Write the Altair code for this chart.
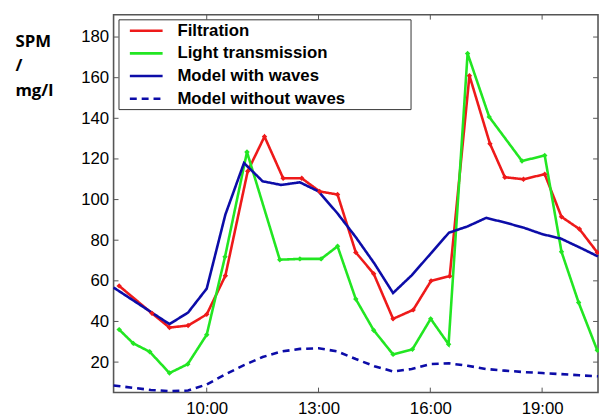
import altair as alt
import pandas as pd

# ---- data ----
filt_t = [7.65, 8.53, 9.0, 9.5, 10.0, 10.5, 11.1, 11.55, 12.05, 12.55, 13.03, 13.51, 14.0,
          14.48, 15.0, 15.54, 16.02, 16.52, 17.05, 17.6, 18.0, 18.5, 19.07, 19.52, 20.0, 20.48]
filt_v = [57.5, 44, 37, 38, 43.5, 62.5, 114, 131, 110.5, 110.5, 104, 102.5, 74,
          63.5, 41.3, 45.7, 60, 62.3, 161, 127.5, 111, 110, 112.5, 91.5, 85.5, 74]

light_t = [7.65, 8.03, 8.47, 9.0, 9.49, 10.0, 10.49, 11.08, 11.96, 12.5, 13.07, 13.51, 14.0,
           14.48, 15.0, 15.52, 16.01, 16.49, 17.0, 17.58, 18.46, 19.07, 19.52, 19.98, 20.48]
light_v = [36, 29.2, 25.1, 14.6, 19, 33.5, 71.8, 123.4, 70.4, 70.8, 70.8, 77, 51,
           35.7, 23.8, 26.3, 41.3, 28.8, 171.9, 140.7, 119, 121.7, 74.3, 49.3, 25.8]

model_t = [7.5, 8, 8.5, 9, 9.5, 10, 10.5, 11, 11.5, 12, 12.5, 13, 13.5, 14, 14.5, 15, 15.5,
           16, 16.5, 17, 17.5, 18, 18.5, 19, 19.5, 20, 20.5]
wave_v = [56.7, 50.7, 44.7, 38.7, 44.4, 56.2, 92.6, 118, 109, 107.2, 108.5, 104, 93.4, 81.5,
          68.5, 54, 62.7, 73.2, 83.7, 86.8, 91, 88.7, 86.2, 83, 80.8, 76.5, 72]
nowave_v = [8.5, 7.4, 6.3, 5.7, 6.0, 9.0, 14, 18.5, 22.5, 25.2, 26.5, 26.8, 25.3, 21.5,
            18, 15.4, 16.6, 19, 19.4, 18.2, 16.6, 15.8, 15.1, 14.6, 14.1, 13.5, 13]

series_names = ["Filtration", "Light transmission", "Model with waves", "Model without waves"]
series_colors = ["#ee1a1a", "#22e622", "#0c0ca8", "#0c0ca8"]
series_dashes = [[1, 0], [1, 0], [1, 0], [7, 5]]

x_ticks = [10, 13, 16, 19]
y_ticks = [20, 40, 60, 80, 100, 120, 140, 160, 180]

# ---- tables ----
rows = []
for t, v in zip(filt_t, filt_v):
    rows.append({"t": t, "v": v, "s": series_names[0]})
for t, v in zip(light_t, light_v):
    rows.append({"t": t, "v": v, "s": series_names[1]})
for t, v in zip(model_t, wave_v):
    rows.append({"t": t, "v": v, "s": series_names[2]})
for t, v in zip(model_t, nowave_v):
    rows.append({"t": t, "v": v, "s": series_names[3]})
df = pd.DataFrame(rows)
meas = df[df["s"].isin(series_names[:2])]

xt = pd.DataFrame({"t": x_ticks})
yt = pd.DataFrame({"v": y_ticks})

W, H = 491, 383
FRAME = "#555555"

xscale = alt.Scale(domain=[7.5, 20.5], nice=False, zero=False)
yscale = alt.Scale(domain=[5, 191], nice=False, zero=False)

x_enc = alt.X("t:Q", scale=xscale, axis=alt.Axis(
    values=x_ticks, labelExpr="datum.value + ':00'", title=None, grid=False,
    domain=False, ticks=False, labelPadding=8, labelFontSize=17,
    labelFont="Liberation Sans", labelColor="black"))
y_enc = alt.Y("v:Q", scale=yscale, axis=alt.Axis(
    values=y_ticks, grid=False, domain=False, ticks=False, labelPadding=5,
    labelFontSize=17, labelFont="Liberation Sans", labelColor="black",
    title=["SPM", "/", "mg/l"], titleAngle=0, titleAlign="left",
    titleBaseline="alphabetic", titleX=-100, titleY=32, titleFontSize=17,
    titleFont="Open Sans", titleFontWeight="bold", titleLineHeight=25,
    titleColor="black"))

legend = alt.Legend(
    title="MMMM", titleOrient="right", titleColor="rgba(0,0,0,0)", titleFontSize=17,
    titlePadding=7,
    orient="none", legendX=5, legendY=4.7,
    symbolType="M0,0H4.15", symbolSize=256, symbolStrokeWidth=2.6,
    labelFont="Liberation Sans", labelFontWeight="bold", labelFontSize=17,
    labelColor="black", labelOffset=38.7, rowPadding=5, padding=2,
    strokeColor="#333333", fillColor="white", labelLimit=500)

color_enc = alt.Color("s:N", scale=alt.Scale(domain=series_names, range=series_colors),
                      legend=legend)
dash_enc = alt.StrokeDash("s:N", scale=alt.Scale(domain=series_names, range=series_dashes),
                          legend=legend)

lines = alt.Chart(df).mark_line(strokeWidth=2.6).encode(
    x=x_enc, y=y_enc, color=color_enc, strokeDash=dash_enc, detail="s:N")

points = alt.Chart(meas).mark_point(filled=True, shape="diamond", size=30, opacity=1).encode(
    x="t:Q", y="v:Q", color=color_enc)

tick_bottom = alt.Chart(xt).mark_rule(color=FRAME, strokeWidth=1).encode(
    x="t:Q", y=alt.value(H), y2=alt.value(H - 5))
tick_top = alt.Chart(xt).mark_rule(color=FRAME, strokeWidth=1).encode(
    x="t:Q", y=alt.value(0), y2=alt.value(5))
tick_left = alt.Chart(yt).mark_rule(color=FRAME, strokeWidth=1).encode(
    y="v:Q", x=alt.value(0), x2=alt.value(5))
tick_right = alt.Chart(yt).mark_rule(color=FRAME, strokeWidth=1).encode(
    y="v:Q", x=alt.value(W), x2=alt.value(W - 5))

chart = alt.layer(tick_bottom, tick_top, tick_left, tick_right, lines, points).properties(
    width=W, height=H, autosize="none",
    padding={"left": 107, "top": 4, "right": 1, "bottom": 24},
    background="white",
).configure_view(stroke=FRAME, strokeWidth=1.6)

chart.save("out.html", embed_options={"renderer": "svg", "actions": False})
